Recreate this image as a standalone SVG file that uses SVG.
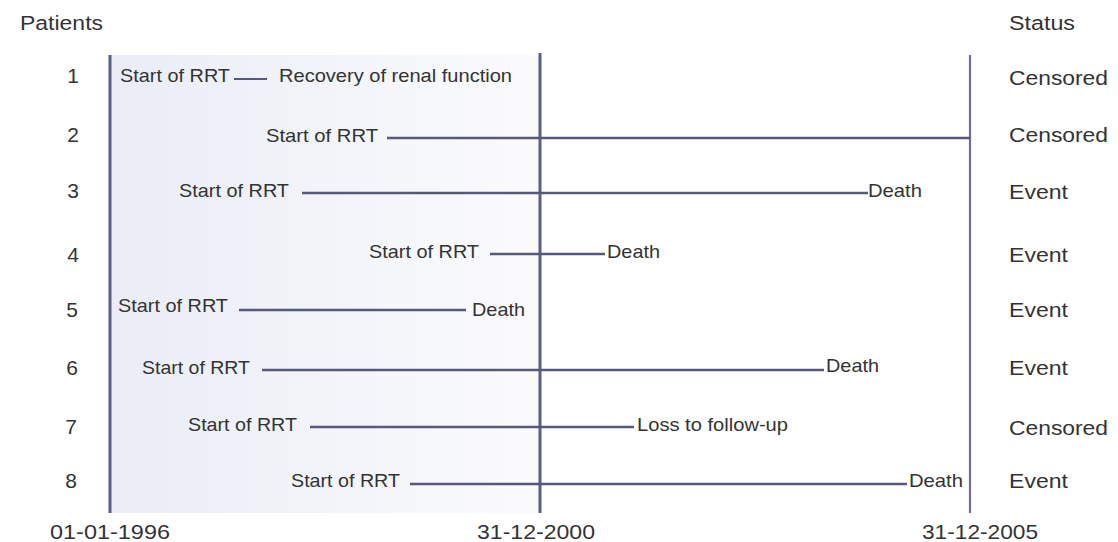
<svg xmlns="http://www.w3.org/2000/svg" width="1118" height="542" viewBox="0 0 1118 542">
  <defs>
    <linearGradient id="shade" x1="0" y1="0" x2="1" y2="0">
      <stop offset="0" stop-color="#eaedf6"/>
      <stop offset="0.5" stop-color="#f2f4f9"/>
      <stop offset="1" stop-color="#fbfbfd"/>
    </linearGradient>
    <style>
      text { font-family: "Liberation Sans", Arial, sans-serif; fill: #333333; }
      .lbl { font-size: 18.5px; }
      .num { font-size: 21px; text-anchor: middle; }
      .hdr { font-size: 20px; }
      .st { font-size: 21px; }
      .date { font-size: 21px; text-anchor: middle; }
      .axis { stroke: #5a5e8a; stroke-width: 3; fill: none; }
      .span { stroke: #56597c; stroke-width: 2.6; fill: none; }
    </style>
  </defs>

  <rect width="1118" height="542" fill="#ffffff"/>
  <!-- shaded study period band -->
  <rect x="110" y="55" width="430" height="458" fill="url(#shade)"/>

  <!-- headers -->
  <text class="hdr" x="20" y="30" textLength="83" lengthAdjust="spacingAndGlyphs">Patients</text>
  <text class="hdr" x="1009" y="30" textLength="66" lengthAdjust="spacingAndGlyphs">Status</text>

  <!-- time axes -->
  <g id="axes">
    <line class="axis" x1="110" y1="55" x2="110" y2="513"/>
    <line class="axis" x1="540" y1="53" x2="540" y2="513"/>
    <line class="axis" x1="970" y1="55" x2="970" y2="513" style="stroke:#6e7090;stroke-width:2.2"/>
    <text class="date" x="110" y="539" textLength="120" lengthAdjust="spacingAndGlyphs">01-01-1996</text>
    <text class="date" x="536" y="539" textLength="118" lengthAdjust="spacingAndGlyphs">31-12-2000</text>
    <text class="date" x="980" y="539" textLength="116" lengthAdjust="spacingAndGlyphs">31-12-2005</text>
  </g>

  <!-- follow-up spans -->
  <g id="connectors">
    <line class="span" x1="234" y1="79" x2="267" y2="79" style="stroke-width:2"/>
    <line class="span" x1="387" y1="138" x2="970" y2="138"/>
    <line class="span" x1="302" y1="193" x2="868" y2="193"/>
    <line class="span" x1="490" y1="254" x2="605" y2="254"/>
    <line class="span" x1="239" y1="310" x2="466" y2="310"/>
    <line class="span" x1="262" y1="370" x2="824" y2="370"/>
    <line class="span" x1="310" y1="427" x2="634" y2="427"/>
    <line class="span" x1="410" y1="484" x2="907" y2="484"/>
  </g>

  <g id="patient-1">
    <text class="num" x="73" y="83">1</text>
    <text class="lbl" x="120" y="82" textLength="110" lengthAdjust="spacingAndGlyphs">Start of RRT</text>
    <text class="lbl" x="279" y="82" textLength="233" lengthAdjust="spacingAndGlyphs">Recovery of renal function</text>
    <text class="st" x="1009" y="85" textLength="99" lengthAdjust="spacingAndGlyphs">Censored</text>
  </g>

  <g id="patient-2">
    <text class="num" x="73" y="142">2</text>
    <text class="lbl" x="266" y="142" textLength="112" lengthAdjust="spacingAndGlyphs">Start of RRT</text>
    <text class="st" x="1009" y="142" textLength="99" lengthAdjust="spacingAndGlyphs">Censored</text>
  </g>

  <g id="patient-3">
    <text class="num" x="73" y="198">3</text>
    <text class="lbl" x="179" y="197" textLength="110" lengthAdjust="spacingAndGlyphs">Start of RRT</text>
    <text class="lbl" x="868" y="197" textLength="54" lengthAdjust="spacingAndGlyphs">Death</text>
    <text class="st" x="1009" y="199" textLength="59" lengthAdjust="spacingAndGlyphs">Event</text>
  </g>

  <g id="patient-4">
    <text class="num" x="73" y="262">4</text>
    <text class="lbl" x="369" y="258" textLength="110" lengthAdjust="spacingAndGlyphs">Start of RRT</text>
    <text class="lbl" x="607" y="258" textLength="53" lengthAdjust="spacingAndGlyphs">Death</text>
    <text class="st" x="1009" y="262" textLength="59" lengthAdjust="spacingAndGlyphs">Event</text>
  </g>

  <g id="patient-5">
    <text class="num" x="72" y="317">5</text>
    <text class="lbl" x="118" y="312" textLength="110" lengthAdjust="spacingAndGlyphs">Start of RRT</text>
    <text class="lbl" x="472" y="316" textLength="53" lengthAdjust="spacingAndGlyphs">Death</text>
    <text class="st" x="1009" y="317" textLength="59" lengthAdjust="spacingAndGlyphs">Event</text>
  </g>

  <g id="patient-6">
    <text class="num" x="72" y="375">6</text>
    <text class="lbl" x="142" y="374" textLength="108" lengthAdjust="spacingAndGlyphs">Start of RRT</text>
    <text class="lbl" x="826" y="372" textLength="53" lengthAdjust="spacingAndGlyphs">Death</text>
    <text class="st" x="1009" y="375" textLength="59" lengthAdjust="spacingAndGlyphs">Event</text>
  </g>

  <g id="patient-7">
    <text class="num" x="71" y="434">7</text>
    <text class="lbl" x="188" y="431" textLength="109" lengthAdjust="spacingAndGlyphs">Start of RRT</text>
    <text class="lbl" x="637" y="431" textLength="151" lengthAdjust="spacingAndGlyphs">Loss to follow-up</text>
    <text class="st" x="1009" y="435" textLength="99" lengthAdjust="spacingAndGlyphs">Censored</text>
  </g>

  <g id="patient-8">
    <text class="num" x="71" y="488">8</text>
    <text class="lbl" x="291" y="487" textLength="109" lengthAdjust="spacingAndGlyphs">Start of RRT</text>
    <text class="lbl" x="909" y="487" textLength="54" lengthAdjust="spacingAndGlyphs">Death</text>
    <text class="st" x="1009" y="488" textLength="59" lengthAdjust="spacingAndGlyphs">Event</text>
  </g>
</svg>
